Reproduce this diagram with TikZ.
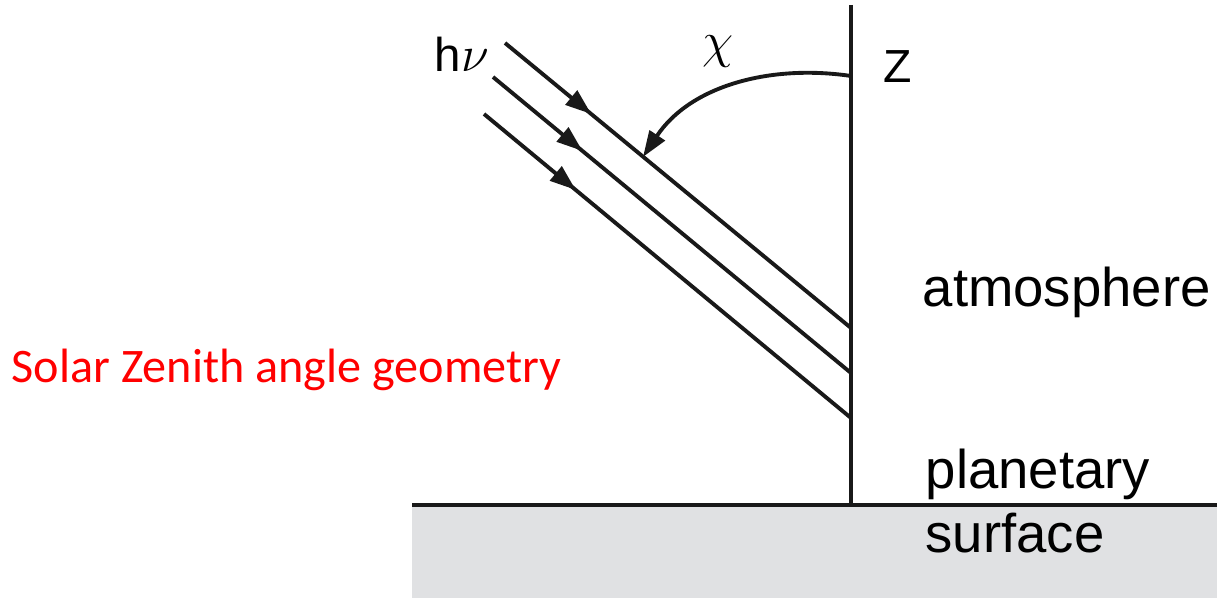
\documentclass[tikz,border=0pt]{standalone}
\usepackage{fontspec}
\setmainfont{Liberation Sans}
\newfontfamily\calibfont{Carlito}
\usepackage{xcolor}
\usetikzlibrary{arrows.meta,decorations.markings}
\definecolor{groundgray}{RGB}{224,225,227}

\begin{document}
\begin{tikzpicture}[x=0.01cm, y=-0.01cm,
  ln/.style={line width=1.1pt, black!90},
  tip/.style={-{Triangle[length=2.6mm,width=1.8mm]}},
  ray/.style={ln, postaction={decorate}, decoration={markings,
    mark=at position 0.25 with {\arrow{Triangle[length=2.6mm,width=1.8mm]}}}},
  lbl/.style={anchor=base west, inner sep=0pt, font=\fontsize{15.5}{18}\selectfont},
  sym/.style={inner sep=0pt, font=\fontsize{14}{16}\selectfont}]
\useasboundingbox (0,0) rectangle (1217,598);
% ground
\fill[groundgray] (412,505) rectangle (1217,598);
\coordinate (gl) at (412,505);
\coordinate (gr) at (1217,505);
\draw[ln] (gl) -- (gr);
% zenith line
\coordinate (ztop) at (851,5);
\coordinate (zbot) at (851,505);
\draw[ln] (ztop) -- (zbot);
% incoming rays
\coordinate (s1) at (505,43);  \coordinate (e1) at (851,328);
\coordinate (s2) at (493,77);  \coordinate (e2) at (851,373);
\coordinate (s3) at (484,114); \coordinate (e3) at (851,418);
\draw[ray] (s1) -- (e1);
\draw[ray] (s2) -- (e2);
\draw[ray] (s3) -- (e3);
% zenith angle
\coordinate (ca) at (851,76);
\coordinate (cb) at (643,157);
\draw[ln, tip] (ca) .. controls (770,64) and (690,86) .. (cb);
% labels
\node[lbl, font=\fontsize{13.5}{16}\selectfont] (hnu) at (434,72) {h$\nu$};
\node[sym] (chi) at (718,52) {$\chi$};
\node[lbl, font=\fontsize{13.2}{16}\selectfont] (zl) at (883,83) {Z};
\node[lbl] (atm) at (922,307) {atmosphere};
\node[lbl] (plan) at (925,489) {planetary};
\node[lbl] (surf) at (925,553) {surface};
\node[lbl, font=\calibfont\fontsize{13.7}{16}\selectfont, text=red] (title) at (11,383) {Solar Zenith angle geometry};
\end{tikzpicture}
\end{document}
